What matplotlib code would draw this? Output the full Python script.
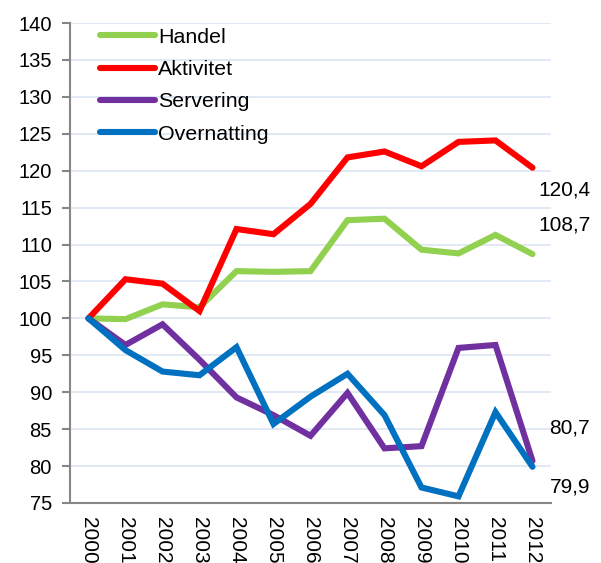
import matplotlib.pyplot as plt
import matplotlib
import numpy as np
matplotlib.rcParams['font.family'] = ['Liberation Sans', 'DejaVu Sans']

# data
years = ['2000', '2001', '2002', '2003', '2004', '2005', '2006',
         '2007', '2008', '2009', '2010', '2011', '2012']
handel = [100, 99.9, 101.9, 101.5, 106.4, 106.3, 106.4, 113.3, 113.5, 109.3, 108.8, 111.3, 108.7]
aktivitet = [100, 105.3, 104.7, 101.0, 112.1, 111.4, 115.5, 121.8, 122.6, 120.6, 123.9, 124.1, 120.4]
servering = [100, 96.4, 99.2, 94.4, 89.3, 86.9, 84.1, 89.9, 82.4, 82.7, 96.0, 96.4, 80.7]
overnatting = [100, 95.7, 92.8, 92.3, 96.1, 85.7, 89.4, 92.5, 86.9, 77.1, 75.9, 87.3, 79.9]

series = [('Handel', handel, '#92d050'),
          ('Aktivitet', aktivitet, '#ff0000'),
          ('Servering', servering, '#7030a0'),
          ('Overnatting', overnatting, '#0070c0')]

fig = plt.figure(figsize=(6.01, 5.63), dpi=100)
ax = fig.add_axes([70 / 601, 1 - 503 / 563, 481 / 601, 480 / 563])

x = np.arange(len(years))
for name, vals, col in series:
    ax.plot(x, vals, color=col, lw=4.4, label=name, solid_joinstyle='miter',
            solid_capstyle='round')

ax.set_xlim(-0.5, len(years) - 0.5)
ax.set_ylim(75, 140)
ax.set_yticks(np.arange(75, 141, 5))
ax.set_xticks(x)
ax.set_xticklabels(years, rotation=-90)
ax.tick_params(axis='y', labelsize=14.5, length=6, width=1.5, color='#868686', pad=7)
ax.tick_params(axis='x', labelsize=15, length=0, pad=10)

ax.grid(axis='y', color='#dce6f2', lw=1.2)
ax.set_axisbelow(True)
for s in ['top', 'right']:
    ax.spines[s].set_visible(False)
for s in ['left', 'bottom']:
    ax.spines[s].set_color('#868686')
    ax.spines[s].set_linewidth(1.5)

# end labels
ends = [(aktivitet[-1], (6, -22)),
        (handel[-1], (6, 29)),
        (servering[-1], (17, 33)),
        (overnatting[-1], (17, -20))]
for v, off in ends:
    ax.annotate(f'{v:.1f}'.replace('.', ','), xy=(x[-1], v), xytext=off,
                textcoords='offset pixels', ha='left', va='center',
                fontsize=15, annotation_clip=False)

ax.legend(loc='upper left', bbox_to_anchor=(30 / 481, 0.99), frameon=False,
          fontsize=15.4, handlelength=2.55, handletextpad=0.15, labelspacing=0.62,
          borderpad=0, borderaxespad=0)

plt.savefig('out.png', dpi=100)
